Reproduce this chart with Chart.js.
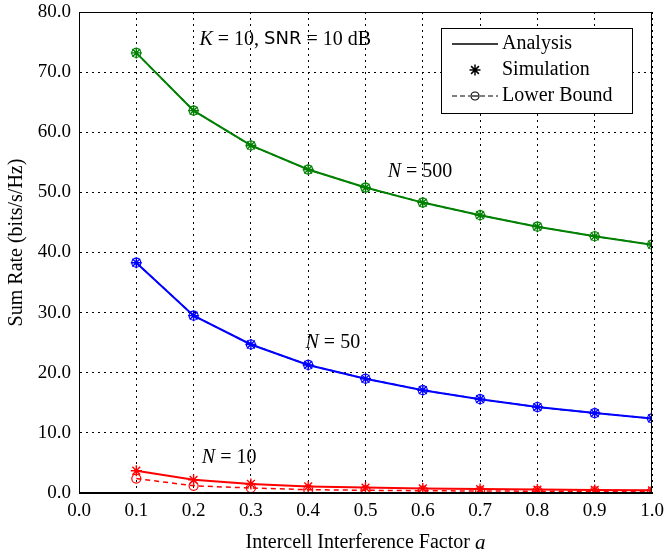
<!DOCTYPE html>
<html><head><meta charset="utf-8">
<script src="https://cdn.jsdelivr.net/npm/chart.js@4/dist/chart.umd.min.js"></script>
<style>html,body{margin:0;padding:0;background:#fff}#w{width:664px;height:557px}</style>
</head><body><div id="w"><canvas id="c" width="664" height="557"></canvas></div>
<script>
const alphas = [0.1,0.2,0.3,0.4,0.5,0.6,0.7,0.8,0.9,1.0];
const xTicks = ['0.0','0.1','0.2','0.3','0.4','0.5','0.6','0.7','0.8','0.9','1.0'];
const yTicks = ['0.0','10.0','20.0','30.0','40.0','50.0','60.0','70.0','80.0'];
const ana500 = [73.2,63.6,57.8,53.8,50.8,48.3,46.2,44.3,42.7,41.3];
const sim500 = [73.2,63.6,57.8,53.8,50.8,48.3,46.2,44.3,42.7,41.3];
const lb500  = [73.2,63.6,57.8,53.8,50.8,48.3,46.2,44.3,42.7,41.3];
const ana50 = [38.3,29.5,24.7,21.3,19.0,17.1,15.6,14.3,13.3,12.4];
const sim50 = [38.3,29.5,24.7,21.3,19.0,17.1,15.6,14.3,13.3,12.4];
const lb50  = [38.3,29.5,24.7,21.3,19.0,17.1,15.6,14.3,13.3,12.4];
const ana10 = [3.7,2.2,1.5,1.1,0.9,0.75,0.65,0.57,0.5,0.45];
const sim10 = [3.7,2.2,1.5,1.1,0.9,0.75,0.65,0.57,0.5,0.45];
const lb10  = [2.4,1.2,0.83,0.55,0.45,0.38,0.33,0.3,0.27,0.25];

const SERIF = '"Liberation Serif","DejaVu Serif",serif';
const pts = a => alphas.map((x,i)=>({x, y:a[i]}));
function series(col, ana, sim, lb){
  return [
    {data:pts(ana), borderColor:col, borderWidth:2, pointRadius:0, showLine:true, tension:0},
    {data:pts(lb), borderColor:col, borderWidth:1.5, borderDash:[5,4], showLine:true,
     pointStyle:'circle', pointRadius:4.5, pointBorderWidth:1.2, pointBackgroundColor:'rgba(0,0,0,0)', pointBorderColor:col},
    {data:pts(sim), borderColor:col, showLine:false, pointStyle:'star', pointRadius:5.5, pointBorderWidth:1.4, pointBorderColor:col}
  ];
}
const datasets = [...series('#008000',ana500,sim500,lb500), ...series('#0000ff',ana50,sim50,lb50), ...series('#ff0000',ana10,sim10,lb10)];

const labelsData = [
  {x:0.595, y:53.4, parts:[['N','italic'],[' = 500','normal']]},
  {x:0.443, y:25.0, parts:[['N','italic'],[' = 50','normal']]},
  {x:0.262, y:5.8, parts:[['N','italic'],[' = 10','normal']]}
];

function drawParts(ctx, parts, cx, cy){
  let tw=0; parts.forEach(p=>{ctx.font=p[1]; tw+=ctx.measureText(p[0]).width;});
  let px = cx - tw/2;
  ctx.textAlign='left'; ctx.textBaseline='middle';
  parts.forEach(p=>{ctx.font=p[1]; ctx.fillText(p[0],px,cy); px+=ctx.measureText(p[0]).width;});
}

const overlay = {
  id:'overlay',
  afterDraw(chart){
    const ctx = chart.ctx, xs = chart.scales.x, ys = chart.scales.y, ca = chart.chartArea;
    ctx.save();
    ctx.strokeStyle='#000'; ctx.lineWidth=1; ctx.setLineDash([]);
    ctx.strokeRect(ca.left+0.5, ca.top+0.5, ca.right-ca.left-1, ca.bottom-ca.top-1);
    ctx.fillStyle='#000';
    labelsData.forEach(l=>{
      drawParts(ctx, l.parts.map(p=>[p[0], p[1]+' 20px '+SERIF]), xs.getPixelForValue(l.x), ys.getPixelForValue(l.y));
    });
    drawParts(ctx, [['K','italic 20px '+SERIF],[' = 10, ','20px '+SERIF],['SNR','18px "DejaVu Sans",sans-serif'],[' = 10 dB','20px '+SERIF]],
      xs.getPixelForValue(0.36), ys.getPixelForValue(75.4));
    drawParts(ctx, [['Intercell Interference Factor ','20px '+SERIF],['a','italic 21px '+SERIF]], (ca.left+ca.right)/2, 543);
    ctx.save(); ctx.translate(17,(ca.top+ca.bottom)/2 - 10); ctx.rotate(-Math.PI/2);
    drawParts(ctx, [['Sum Rate (bits/s/Hz)','20px '+SERIF]], 0, 0);
    ctx.restore();
    const lx = ca.right-211, ly = ca.top+16, lw=191, lh=85;
    ctx.fillStyle='#fff'; ctx.fillRect(lx,ly,lw,lh);
    ctx.strokeStyle='#000'; ctx.lineWidth=1; ctx.strokeRect(lx+0.5,ly+0.5,lw,lh);
    ctx.font='20px '+SERIF; ctx.fillStyle='#000'; ctx.textAlign='left'; ctx.textBaseline='middle';
    const rows=[ly+16, ly+42, ly+68];
    const tx = lx+61;
    ctx.fillText('Analysis',tx,rows[0]);
    ctx.fillText('Simulation',tx,rows[1]);
    ctx.fillText('Lower Bound',tx,rows[2]);
    ctx.lineWidth=1.5;
    ctx.beginPath(); ctx.moveTo(lx+11,rows[0]); ctx.lineTo(lx+57,rows[0]); ctx.stroke();
    const sx=lx+34, sy=rows[1], r=5.5;
    ctx.lineWidth=1.5; ctx.beginPath();
    for(let k=0;k<4;k++){const a=k*Math.PI/4; ctx.moveTo(sx-r*Math.cos(a),sy-r*Math.sin(a)); ctx.lineTo(sx+r*Math.cos(a),sy+r*Math.sin(a));}
    ctx.stroke();
    ctx.lineWidth=1.2; ctx.setLineDash([5,3]);
    ctx.beginPath(); ctx.moveTo(lx+11,rows[2]); ctx.lineTo(lx+29,rows[2]); ctx.moveTo(lx+39,rows[2]); ctx.lineTo(lx+57,rows[2]); ctx.stroke();
    ctx.setLineDash([]);
    ctx.beginPath(); ctx.arc(lx+34,rows[2],4,0,2*Math.PI); ctx.stroke();
    ctx.beginPath(); ctx.moveTo(lx+31,rows[2]); ctx.lineTo(lx+37,rows[2]); ctx.stroke();
    ctx.restore();
  }
};

new Chart(document.getElementById('c'), {
  type:'scatter',
  data:{datasets},
  options:{
    responsive:false, animation:false, devicePixelRatio:1,
    layout:{padding:{left:0,right:12,top:12,bottom:0}},
    plugins:{legend:{display:false}, tooltip:{enabled:false}},
    scales:{
      x:{type:'linear', min:0, max:1,
        afterBuildTicks(s){s.ticks = xTicks.map(t=>({value:parseFloat(t)}));},
        afterFit(s){s.height=64; s.paddingLeft=0; s.paddingRight=0;},
        ticks:{callback:(v,i)=>xTicks[i], color:'#000', font:{family:SERIF,size:19}, padding:7, maxRotation:0},
        grid:{color:'#000', lineWidth:1, drawTicks:false},
        border:{display:true,color:'#000',dash:[2,4]},
        title:{display:false}
      },
      y:{type:'linear', min:0, max:80,
        afterBuildTicks(s){s.ticks = yTicks.map(t=>({value:parseFloat(t)}));},
        afterFit(s){s.width=79; s.paddingTop=0; s.paddingBottom=0;},
        ticks:{callback:(v,i)=>yTicks[i], color:'#000', font:{family:SERIF,size:19}, padding:8},
        grid:{color:'#000', lineWidth:1, drawTicks:false},
        border:{display:true,color:'#000',dash:[2,4]},
        title:{display:false}
      }
    }
  },
  plugins:[overlay]
});
</script></body></html>
